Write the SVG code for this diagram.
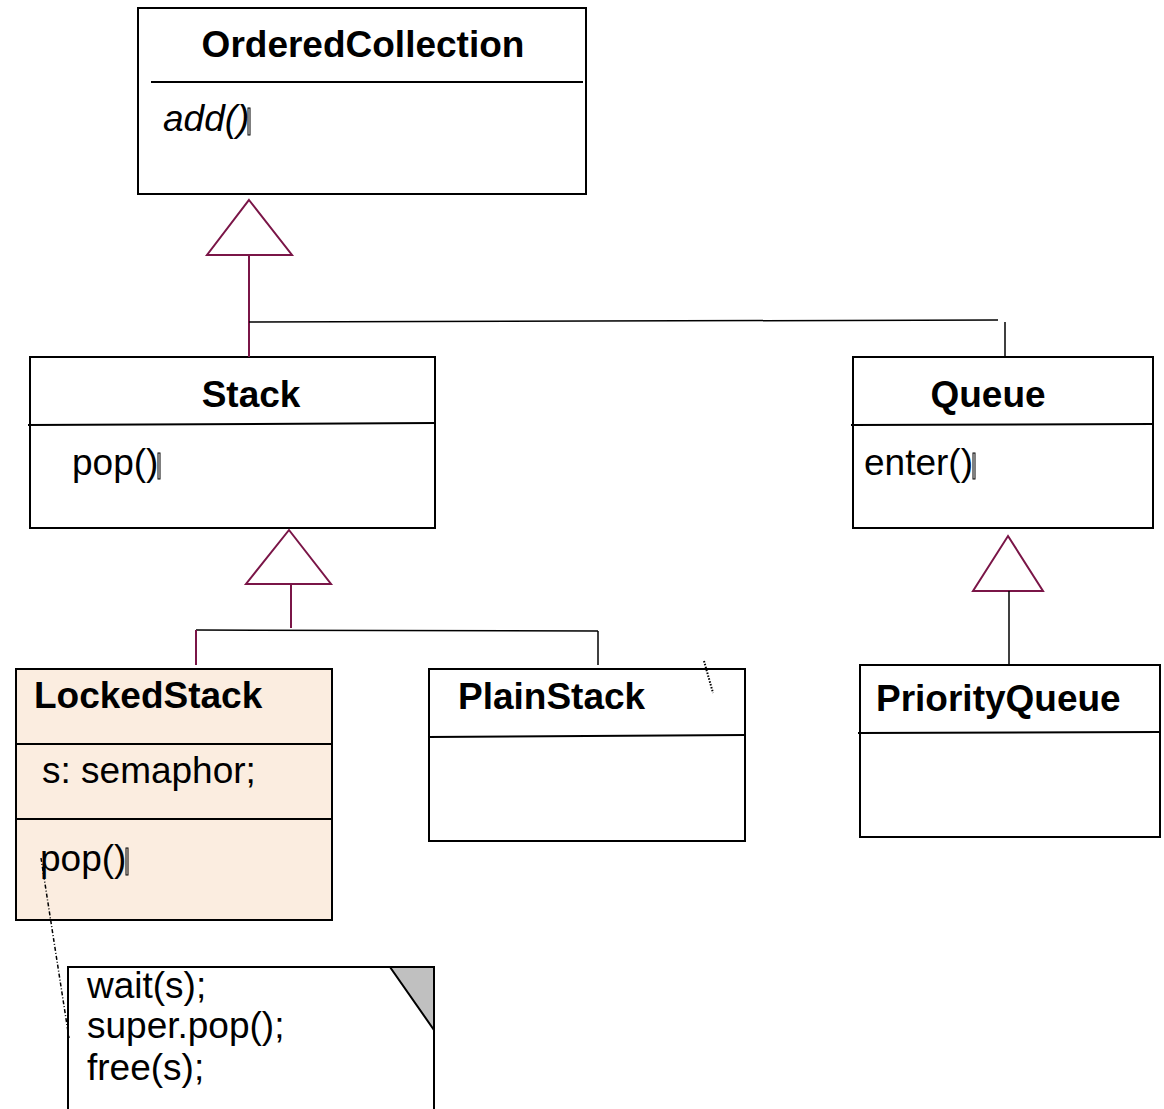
<svg xmlns="http://www.w3.org/2000/svg" width="1164" height="1109" viewBox="0 0 1164 1109">
<style>
.box{fill:#fff;stroke:#000;stroke-width:2}
.div{stroke:#000;stroke-width:2;fill:none}
.t{font-family:"Liberation Sans",Arial,sans-serif;font-size:37px;fill:#000}
.b{font-weight:bold}
.i{font-style:italic}
.tri{fill:#fff;stroke:#7a1547;stroke-width:2}
.pl{stroke:#7a1547;stroke-width:2;fill:none}
.bl{stroke:#000;stroke-width:1.5;fill:none}
.art{fill:none;stroke:#000;stroke-width:1}
</style>
<rect width="1164" height="1109" fill="#fff"/>
<g id="OrderedCollection">
<rect class="box" x="138" y="8" width="448" height="186"/>
<line class="div" x1="151" y1="82" x2="583" y2="82"/>
<text class="t b" x="363" y="57" text-anchor="middle">OrderedCollection</text>
<text class="t i" x="163" y="131">add()</text>
<rect class="art" x="248" y="108" width="2" height="27"/>
</g>
<g id="Stack">
<rect class="box" x="30" y="357" width="405" height="171"/>
<line class="div" x1="28" y1="425" x2="435" y2="423"/>
<text class="t b" x="251" y="407" text-anchor="middle">Stack</text>
<text class="t" x="72" y="475">pop()</text>
<rect class="art" x="158" y="453" width="2" height="26"/>
</g>
<g id="Queue">
<rect class="box" x="853" y="357" width="300" height="171"/>
<line class="div" x1="851" y1="425" x2="1153" y2="424"/>
<text class="t b" x="988" y="407" text-anchor="middle">Queue</text>
<text class="t" x="864" y="475">enter()</text>
<rect class="art" x="973" y="453" width="2" height="26"/>
</g>
<g id="LockedStack">
<rect x="16" y="669" width="316" height="251" fill="#fbede0" stroke="#000" stroke-width="2"/>
<line class="div" x1="16" y1="744" x2="332" y2="744"/>
<line class="div" x1="16" y1="819" x2="332" y2="819"/>
<text class="t b" x="34" y="708">LockedStack</text>
<text class="t" x="42" y="783">s: semaphor;</text>
<text class="t" x="40" y="871">pop()</text>
<rect class="art" x="126" y="848" width="2" height="27"/>
</g>
<g id="PlainStack">
<rect class="box" x="429" y="669" width="316" height="172"/>
<line class="div" x1="428" y1="737" x2="745" y2="735"/>
<text class="t b" x="458" y="709">PlainStack</text>
</g>
<g id="PriorityQueue">
<rect class="box" x="860" y="665" width="300" height="172"/>
<line class="div" x1="858" y1="733" x2="1160" y2="732"/>
<text class="t b" x="876" y="711">PriorityQueue</text>
</g>
<g id="Note">
<path d="M68,1109 V967 H434 V1109" fill="#fff" stroke="#000" stroke-width="2"/>
<polygon points="390,967 434,967 434,1030" fill="#c0c0c0" stroke="#000" stroke-width="2"/>
<text class="t" x="87" y="998">wait(s);</text>
<text class="t" x="87" y="1038">super.pop();</text>
<text class="t" x="87" y="1080">free(s);</text>
</g>
<g id="connectors">
<polygon class="tri" points="249,200 292,255 207,255"/>
<line class="pl" x1="249" y1="255" x2="249" y2="357"/>
<line class="bl" x1="249" y1="322" x2="998" y2="320"/>
<line class="bl" x1="1005" y1="322" x2="1005" y2="357"/>
<polygon class="tri" points="289,530 331,584 246,584"/>
<line class="pl" x1="291" y1="584" x2="291" y2="628"/>
<line class="bl" x1="196" y1="630" x2="598" y2="631"/>
<line class="pl" x1="196" y1="630" x2="196" y2="665"/>
<line class="bl" x1="598" y1="631" x2="598" y2="665"/>
<polygon class="tri" points="1008,536 1043,591 973,591"/>
<line class="bl" x1="1009" y1="591" x2="1009" y2="665"/>
<line stroke="#000" stroke-width="1.5" stroke-dasharray="4,2,1,2" x1="41" y1="858" x2="69" y2="1038"/>
<line stroke="#000" stroke-width="2" stroke-dasharray="1.5,1.5" x1="704" y1="661" x2="713" y2="693"/>
</g>
</svg>
